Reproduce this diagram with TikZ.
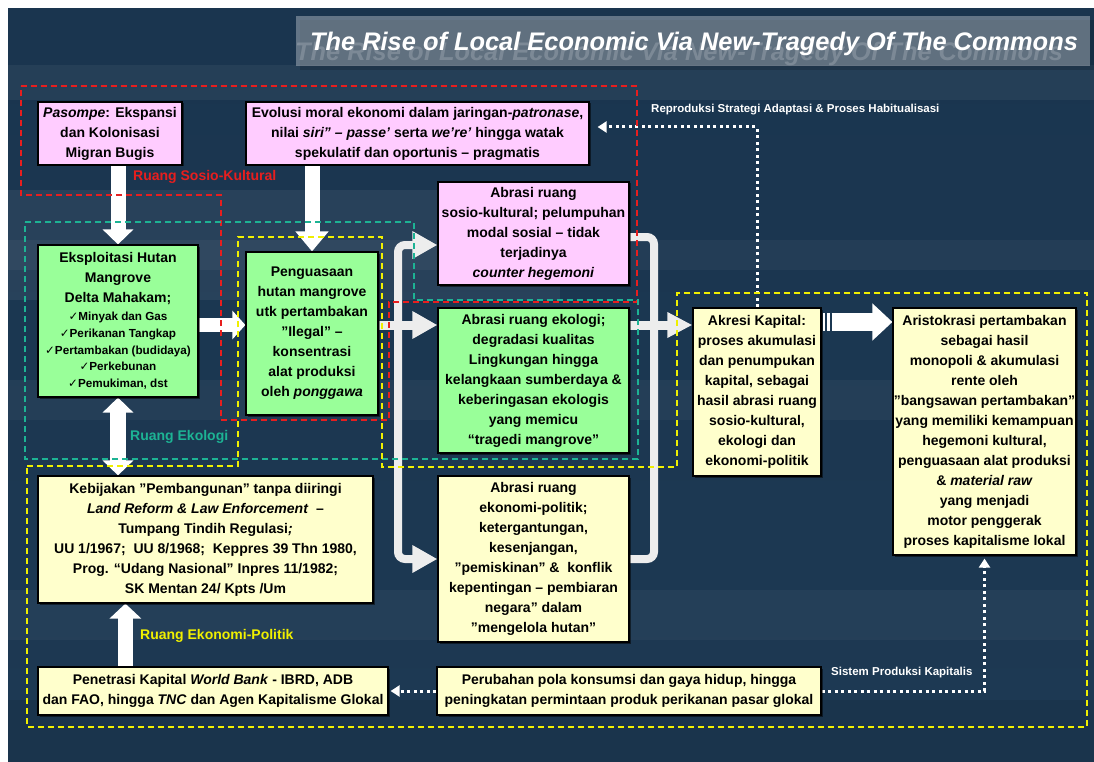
\documentclass[tikz,border=0pt]{standalone}
\usepackage{fontspec}
\setmainfont{Liberation Sans}
\newfontfamily\dejavu{DejaVu Sans}
\usetikzlibrary{arrows.meta,shadows,calc}
\definecolor{bgtop}{HTML}{1A354F}
\definecolor{bgmid}{HTML}{2C4E67}
\definecolor{bgbot}{HTML}{1D3953}
\definecolor{pinkc}{HTML}{FFCCFF}
\definecolor{greenc}{HTML}{99FF99}
\definecolor{yellowc}{HTML}{FFFFCC}
\definecolor{redz}{HTML}{E81E1E}
\definecolor{tealz}{HTML}{1DB394}
\definecolor{yellowz}{HTML}{F0F000}
\definecolor{conncol}{HTML}{EDEDED}
\pgfdeclarelayer{bg}
\pgfdeclarelayer{conn}
\pgfdeclarelayer{dash}
\pgfsetlayers{bg,conn,dash,main}
\newcommand{\ck}{{\dejavu ✓}}
\newcommand{\smf}{\fontsize{11.7}{20}\selectfont}
\begin{document}
\begin{tikzpicture}[x=1pt,y=-1pt,
  box/.style={draw=black,line width=1.2pt,align=center,inner sep=0pt,
    font=\bfseries\fontsize{14}{20}\selectfont,text=black,
    drop shadow={shadow xshift=1.5pt,shadow yshift=-1.5pt,opacity=0.5,fill=black}},
  pinkbox/.style={box,fill=pinkc},
  greenbox/.style={box,fill=greenc},
  yellowbox/.style={box,fill=yellowc},
  bigarrow/.style={draw=white,-{Triangle[width=30pt,length=15pt]}},
  conn/.style={draw=conncol,line width=8pt},
  dotarrow/.style={draw=white,line width=3pt,dash pattern=on 3pt off 3.5pt,-{Triangle[width=11pt,length=9pt]}},
  zone/.style={line width=1.4pt,dash pattern=on 6pt off 4pt},
  zonelabel/.style={font=\bfseries\fontsize{14}{16}\selectfont,anchor=west,inner sep=0pt},
  flowlabel/.style={font=\bfseries\fontsize{11.5}{13}\selectfont,text=white,anchor=west,inner sep=0pt},
  titlefont/.style={font=\bfseries\itshape\fontsize{25.4}{30}\selectfont}
]
\useasboundingbox (0,0) rectangle (1094,762);

% ---------- background ----------
\begin{pgfonlayer}{bg}
\fill[white] (0,0) rectangle (1094,762);
\shade[top color=bgtop, middle color=bgmid, bottom color=bgbot] (8,9) rectangle (1094,762);
\fill[white,opacity=0.05] (8,65) rectangle (1094,100);
\fill[white,opacity=0.06] (8,190) rectangle (560,300);
\fill[white,opacity=0.04] (8,240) rectangle (1094,270);
\fill[white,opacity=0.04] (8,380) rectangle (1094,420);
\fill[white,opacity=0.04] (8,590) rectangle (1094,640);
\fill[black,opacity=0.08] (8,700) rectangle (1094,762);
% title bar
\fill[black,opacity=0.15] (300,20) rectangle (1094,70);
\fill[white,opacity=0.32] (296,16) rectangle (1090,66);
\begin{scope}
\clip (296,16) rectangle (1090,66);
\node[titlefont,anchor=base,text=white,opacity=0.18] (titleshadow) at (679,61) {The Rise of Local Economic Via New-Tragedy Of The Commons};
\end{scope}
\end{pgfonlayer}
\node[titlefont,anchor=base,text=white] (title) at (694,51) {The Rise of Local Economic Via New-Tragedy Of The Commons};

% ---------- boxes ----------
\node[pinkbox,minimum width=144pt,minimum height=63pt] (pasompe) at (110,133.5)
  {\textit{Pasompe}: Ekspansi\\dan Kolonisasi\\Migran Bugis};
\node[pinkbox,minimum width=343pt,minimum height=63pt] (evolusi) at (417.5,133.5)
  {Evolusi moral ekonomi dalam jaringan-\textit{patronase},\\nilai \textit{siri” – passe’} serta \textit{we’re’} hingga watak\\spekulatif dan oportunis – pragmatis};
\node[greenbox,minimum width=160pt,minimum height=152pt] (eks) at (118,321)
  {Eksploitasi Hutan\\Mangrove\\Delta Mahakam;\\[-2pt]
   {\smf\ck Minyak dan Gas}\\[-3.3pt]
   {\smf\ck Perikanan Tangkap}\\[-3.3pt]
   {\smf\ck Pertambakan (budidaya)}\\[-3.3pt]
   {\smf\ck Perkebunan}\\[-3.3pt]
   {\smf\ck Pemukiman, dst}};
\node[greenbox,minimum width=132pt,minimum height=163pt] (peng) at (312,333.5)
  {Penguasaan\\hutan mangrove\\utk pertambakan\\”Ilegal” –\\konsentrasi\\alat produksi\\oleh \textit{ponggawa}};
\node[pinkbox,minimum width=191pt,minimum height=103pt] (sosio) at (533.5,233.5)
  {Abrasi ruang\\sosio-kultural; pelumpuhan\\modal sosial – tidak\\terjadinya\\\textit{counter hegemoni}};
\node[greenbox,minimum width=191pt,minimum height=145pt] (ekol) at (533.5,380.5)
  {Abrasi ruang ekologi;\\degradasi kualitas\\Lingkungan hingga\\kelangkaan sumberdaya \&\\keberingasan ekologis\\yang memicu\\“tragedi mangrove”};
\node[yellowbox,minimum width=128pt,minimum height=168pt] (akresi) at (757,392)
  {Akresi Kapital:\\proses akumulasi\\dan penumpukan\\kapital, sebagai\\hasil abrasi ruang\\sosio-kultural,\\ekologi dan\\ekonomi-politik};
\node[yellowbox,minimum width=183pt,minimum height=247pt] (aristo) at (984.5,431.5)
  {Aristokrasi pertambakan\\sebagai hasil\\monopoli \& akumulasi\\rente oleh\\”bangsawan pertambakan”\\yang memiliki kemampuan\\hegemoni kultural,\\penguasaan alat produksi\\\& \textit{material raw}\\yang menjadi\\motor penggerak\\proses kapitalisme lokal};
\node[yellowbox,minimum width=335pt,minimum height=127pt] (keb) at (205.5,539.5)
  {Kebijakan ”Pembangunan” tanpa diiringi\\\textit{Land Reform \& Law Enforcement}~ –\\Tumpang Tindih Regulasi\textit{;}\\UU 1/1967;~ UU 8/1968;~ Keppres 39 Thn 1980,\\Prog. “Udang Nasional” Inpres 11/1982;\\SK Mentan 24/ Kpts /Um};
\node[yellowbox,minimum width=191pt,minimum height=166pt] (ekpol) at (533.5,559)
  {Abrasi ruang\\ekonomi-politik;\\ketergantungan,\\kesenjangan,\\”pemiskinan” \&~ konflik\\kepentingan – pembiaran\\negara” dalam\\”mengelola hutan”};
\node[yellowbox,minimum width=350pt,minimum height=48pt] (pen) at (213,691)
  {Penetrasi Kapital \textit{World Bank} - IBRD, ADB\\dan FAO, hingga \textit{TNC} dan Agen Kapitalisme Glokal};
\node[yellowbox,minimum width=384pt,minimum height=48pt] (perub) at (629,691)
  {Perubahan pola konsumsi dan gaya hidup, hingga\\peningkatan permintaan produk perikanan pasar glokal};

% ---------- zone labels ----------
\node[zonelabel,text=redz] (lsk) at (133,177) {Ruang Sosio-Kultural};
\node[zonelabel,text=tealz] (leko) at (130,437) {Ruang Ekologi};
\node[zonelabel,text=yellowz] (lep) at (140,636) {Ruang Ekonomi-Politik};
\node[flowlabel] (lrep) at (651,110) {Reproduksi Strategi Adaptasi \& Proses Habitualisasi};
\node[flowlabel] (lsis) at (831,673) {Sistem Produksi Kapitalis};

% ---------- helper coordinates ----------
\coordinate (row) at (0,325);
\coordinate (row2) at (0,322);
\coordinate (rowtop) at (0,127);
\coordinate (trunkL) at (398,400);
\coordinate (trunkR) at (654,400);
\path (pen.north west) ++(88,0) coordinate (penup);
\path (akresi.east |- row2) coordinate (ak);

% ---------- connectors ----------
\begin{pgfonlayer}{conn}
\draw[bigarrow,line width=15pt] (pasompe.south -| eks.north) -- (eks.north);
\draw[bigarrow,line width=15pt,-{Triangle[width=32pt,length=20pt]}] (evolusi.south -| peng.north) -- (peng.north);
\draw[bigarrow,line width=14pt,-{Triangle[width=28pt,length=13pt]}] (eks.east |- row) -- (peng.west |- row);
\draw[draw=white,line width=16pt,{Triangle[width=30pt,length=15pt]}-{Triangle[width=30pt,length=15pt]}] (eks.south) -- (eks.south |- keb.north);
\draw[bigarrow,line width=15pt,-{Triangle[width=31pt,length=15pt]}] (penup) -- (penup |- keb.south);

\draw[conn,rounded corners=7pt,{Triangle[width=26pt,length=25pt]}-{Triangle[width=26pt,length=25pt]}]
  ([yshift=-11.5pt]sosio.west) -| (trunkL) |- (ekpol.west);
\draw[conn,line width=9pt,-{Triangle[width=26pt,length=25pt]}] (peng.east |- row) -- (ekol.west |- row);
\draw[conn,rounded corners=7pt] ([yshift=-3.5pt]sosio.east) -| (trunkR) |- (ekpol.east);
\draw[conn,line width=9pt,-{Triangle[width=24pt,length=25pt]}] (ekol.east |- row) -- (akresi.west |- row);

\draw[draw=white,line width=18pt,-{Triangle[width=36pt,length=20pt]},shorten <=10pt] (ak) -- (aristo.west |- row2);
\fill[white] ($(ak)+(1,-9)$) rectangle ($(ak)+(3,9)$);
\fill[white] ($(ak)+(5,-9)$) rectangle ($(ak)+(8,9)$);

\draw[dotarrow,shorten >=8pt] (akresi.north) |- (evolusi.east |- rowtop);
\draw[dotarrow,shorten >=3pt] (perub.east) -| (aristo.south);
\draw[dotarrow,shorten >=2pt] (perub.west) -- (pen.east);
\end{pgfonlayer}

% ---------- zones ----------
\begin{pgfonlayer}{dash}
\draw[zone,draw=redz] (21,86) -- (637,86) -- (637,302) -- (389,302) -- (389,420) -- (221,420) -- (221,195) -- (21,195) -- cycle;
\draw[zone,draw=tealz] (25,222) -- (414,222) -- (414,300) -- (638,300) -- (638,459) -- (25,459) -- cycle;
\draw[zone,draw=yellowz] (27,466) -- (238,466) -- (238,237) -- (382,237) -- (382,467) -- (677,467) -- (677,293) -- (1087,293) -- (1087,727) -- (27,727) -- cycle;
\end{pgfonlayer}
\end{tikzpicture}
\end{document}
